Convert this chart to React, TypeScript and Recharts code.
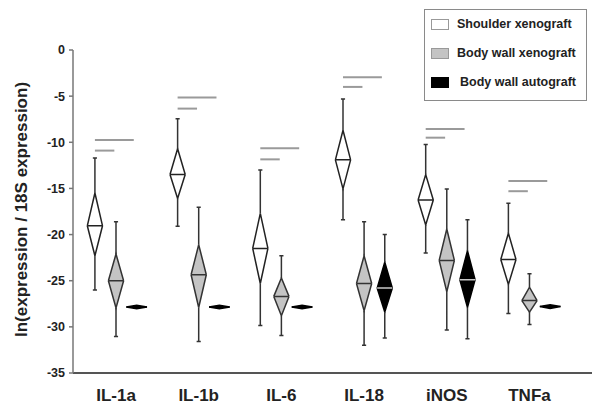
import React from 'react';
import {
  ComposedChart,
  XAxis,
  YAxis,
  Area,
  Line,
  ReferenceLine,
  Legend,
} from 'recharts';

// ---------- data ----------
const categories = ['IL-1a', 'IL-1b', 'IL-6', 'IL-18', 'iNOS', 'TNFa'];
const yTicks = [0, -5, -10, -15, -20, -25, -30, -35];
const seriesNames = ['Shoulder xenograft', 'Body wall xenograft', 'Body wall autograft'];

// Shoulder xenograft
const shoulderWhiskerHigh = [-11.7, -7.45, -13.0, -5.3, -10.25, -16.6];
const shoulderBoxHigh = [-15.5, -10.7, -17.7, -8.7, -13.5, -19.85];
const shoulderMedian = [-19.05, -13.5, -21.5, -11.9, -16.25, -22.7];
const shoulderBoxLow = [-22.3, -16.1, -25.3, -15.05, -18.95, -25.4];
const shoulderWhiskerLow = [-26.0, -19.1, -29.85, -18.4, -22.0, -28.55];

// Body wall xenograft
const wallXenoWhiskerHigh = [-18.6, -17.05, -22.3, -18.6, -15.05, -24.25];
const wallXenoBoxHigh = [-22.1, -21.1, -24.7, -22.3, -19.4, -25.7];
const wallXenoMedian = [-25.0, -24.35, -26.7, -25.3, -22.8, -27.15];
const wallXenoBoxLow = [-27.95, -27.9, -28.8, -28.25, -26.2, -28.4];
const wallXenoWhiskerLow = [-31.05, -31.6, -30.95, -32.0, -30.35, -29.75];

// Body wall autograft
const wallAutoWhiskerHigh = [null, null, null, -20.0, -18.4, null];
const wallAutoBoxHigh = [-27.65, -27.65, -27.65, -23.0, -21.75, -27.6];
const wallAutoMedian = [-27.85, -27.85, -27.85, -25.8, -24.9, -27.8];
const wallAutoBoxLow = [-28.05, -28.05, -28.05, -28.4, -27.9, -28.0];
const wallAutoWhiskerLow = [null, null, null, -31.2, -31.3, null];

// significance bars
const sigShoulderVsWallXeno = [-10.9, -6.35, -11.85, -4.0, -9.5, -15.3];
const sigShoulderVsWallAuto = [-9.75, -5.15, -10.65, -2.95, -8.55, -14.2];

// ---------- styling / layout ----------
const FONT = '"Liberation Sans", Arial, Helvetica, sans-serif';
const seriesOffset = [-0.255, 0, 0.25];
const seriesFill = ['#ffffff', '#c4c4c4', '#000000'];
const seriesStroke = ['#222222', '#333333', '#000000'];
const medianStroke = ['#222222', '#333333', '#c8c8c8'];
const CAP = 0.025;

type Stats = {
  wh: (number | null)[];
  bh: number[];
  med: number[];
  bl: number[];
  wl: (number | null)[];
};

const allSeries: Stats[] = [
  { wh: shoulderWhiskerHigh, bh: shoulderBoxHigh, med: shoulderMedian, bl: shoulderBoxLow, wl: shoulderWhiskerLow },
  { wh: wallXenoWhiskerHigh, bh: wallXenoBoxHigh, med: wallXenoMedian, bl: wallXenoBoxLow, wl: wallXenoWhiskerLow },
  { wh: wallAutoWhiskerHigh, bh: wallAutoBoxHigh, med: wallAutoMedian, bl: wallAutoBoxLow, wl: wallAutoWhiskerLow },
];

const halfWidth = (s: Stats, i: number) => (s.wh[i] == null ? 0.125 : 0.092);

const diamondData = (s: Stats, k: number) => {
  const out: any[] = [];
  categories.forEach((_, i) => {
    const xc = i + seriesOffset[k];
    const hw = halfWidth(s, i);
    out.push({ x: xc - hw, r: [s.med[i], s.med[i]] });
    out.push({ x: xc, r: [s.bl[i], s.bh[i]] });
    out.push({ x: xc + hw, r: [s.med[i], s.med[i]] });
    out.push({ x: xc + hw + 0.02, r: null });
  });
  return out;
};

const medianData = (s: Stats, k: number) => {
  const out: any[] = [];
  categories.forEach((_, i) => {
    if (k === 2 && s.wh[i] == null) return;
    const xc = i + seriesOffset[k];
    const hw = halfWidth(s, i);
    out.push({ x: xc - hw, y: s.med[i] });
    out.push({ x: xc + hw, y: s.med[i] });
    out.push({ x: xc + hw + 0.02, y: null });
  });
  return out;
};

// whisker = line from the diamond tip to the whisker end, then a small cap
const whiskerData = (s: Stats, k: number) => {
  const out: any[] = [];
  categories.forEach((_, i) => {
    const wh = s.wh[i];
    const wl = s.wl[i];
    if (wh == null || wl == null) return;
    const xc = i + seriesOffset[k];
    out.push({ x: xc, y: s.bh[i] });
    out.push({ x: xc, y: wh });
    out.push({ x: xc - CAP, y: wh });
    out.push({ x: xc + CAP, y: wh });
    out.push({ x: xc + CAP + 0.01, y: null });
    out.push({ x: xc, y: s.bl[i] });
    out.push({ x: xc, y: wl });
    out.push({ x: xc - CAP, y: wl });
    out.push({ x: xc + CAP, y: wl });
    out.push({ x: xc + CAP + 0.01, y: null });
  });
  return out;
};

const XTick = (props: any) => {
  const { x, y, payload } = props;
  return (
    <text
      x={x}
      y={y + 22}
      textAnchor="middle"
      dominantBaseline="central"
      fontFamily={FONT}
      fontWeight="bold"
      fontSize={17}
      fill="#222"
    >
      {categories[payload.value]}
    </text>
  );
};

const YLabel = (props: any) => {
  const vb = props.viewBox || { x: 0, y: 50, width: 73, height: 323 };
  const cx = vb.x + 21;
  const cy = vb.y + vb.height / 2 - 2;
  return (
    <text
      x={cx}
      y={cy}
      transform={`rotate(-90 ${cx} ${cy})`}
      textAnchor="middle"
      dominantBaseline="central"
      fontFamily={FONT}
      fontWeight="bold"
      fontSize={17}
      fill="#222"
    >
      ln(expression / 18S expression)
    </text>
  );
};

const LegendBox = () => (
  <div
    style={{
      width: 163,
      height: 92,
      border: '1px solid #8a8a8a',
      boxSizing: 'border-box',
      position: 'relative',
      background: '#fff',
      fontFamily: FONT,
      fontWeight: 'bold',
      fontSize: 12.5,
      color: '#222',
    }}
  >
    {seriesNames.map((name, k) => (
      <div key={name}>
        <div
          style={{
            position: 'absolute',
            left: 6,
            top: 9 + k * 29,
            width: 18,
            height: 11,
            boxSizing: 'border-box',
            background: seriesFill[k],
            border: `1px solid ${k === 2 ? '#000' : '#999'}`,
          }}
        />
        <div
          style={{
            position: 'absolute',
            left: k === 2 ? 35 : 32,
            top: 7 + k * 29,
            lineHeight: '15px',
            whiteSpace: 'nowrap',
          }}
        >
          {name}
        </div>
      </div>
    ))}
  </div>
);

export default function App() {
  return (
    <div style={{ position: 'absolute', left: 0, top: 0, width: 601, height: 408, background: '#fff' }}>
      <ComposedChart width={601} height={408} margin={{ top: 50, right: 9, bottom: 0, left: 0 }}>
        <XAxis
          dataKey="x"
          type="number"
          domain={[-0.52, 5.756]}
          allowDataOverflow
          ticks={[0, 1, 2, 3, 4, 5]}
          tick={<XTick />}
          tickLine={false}
          tickSize={0}
          tickMargin={0}
          height={35}
          axisLine={{ stroke: '#555', strokeWidth: 2 }}
        />
        <YAxis
          type="number"
          domain={[-35, 0]}
          ticks={yTicks}
          width={73}
          tickSize={4}
          tickMargin={4}
          interval={0}
          axisLine={{ stroke: '#777', strokeWidth: 1.5 }}
          tickLine={{ stroke: '#777', strokeWidth: 1.5 }}
          tick={{ fontFamily: FONT, fontWeight: 'bold', fontSize: 12.5, fill: '#222' }}
          label={<YLabel />}
        />
        <Legend
          layout="horizontal"
          verticalAlign="middle"
          align="center"
          content={<LegendBox />}
          wrapperStyle={{ left: 424, top: 9, width: 163, height: 92 }}
        />
        {categories.map((c, i) => (
          <ReferenceLine
            key={'sa' + c}
            segment={[
              { x: i + seriesOffset[0], y: sigShoulderVsWallAuto[i] },
              { x: i + seriesOffset[2] - 0.035, y: sigShoulderVsWallAuto[i] },
            ]}
            stroke="#9a9a9a"
            strokeWidth={2}
          />
        ))}
        {categories.map((c, i) => (
          <ReferenceLine
            key={'sx' + c}
            segment={[
              { x: i + seriesOffset[0], y: sigShoulderVsWallXeno[i] },
              { x: i + seriesOffset[1] - 0.02, y: sigShoulderVsWallXeno[i] },
            ]}
            stroke="#9a9a9a"
            strokeWidth={2}
          />
        ))}
        {allSeries.map((s, k) => (
          <Line
            key={'w' + k}
            data={whiskerData(s, k)}
            dataKey="y"
            type="linear"
            stroke="#333"
            strokeWidth={1.5}
            connectNulls={false}
            dot={false}
            activeDot={false}
            legendType="none"
            isAnimationActive={false}
          />
        ))}
        {allSeries.map((s, k) => (
          <Area
            key={'d' + k}
            data={diamondData(s, k)}
            dataKey="r"
            type="linear"
            fill={seriesFill[k]}
            fillOpacity={1}
            stroke={seriesStroke[k]}
            strokeWidth={1.5}
            connectNulls={false}
            dot={false}
            activeDot={false}
            isAnimationActive={false}
          />
        ))}
        {allSeries.map((s, k) => (
          <Line
            key={'m' + k}
            data={medianData(s, k)}
            dataKey="y"
            type="linear"
            stroke={medianStroke[k]}
            strokeWidth={1.5}
            connectNulls={false}
            dot={false}
            activeDot={false}
            isAnimationActive={false}
          />
        ))}
      </ComposedChart>
    </div>
  );
}
